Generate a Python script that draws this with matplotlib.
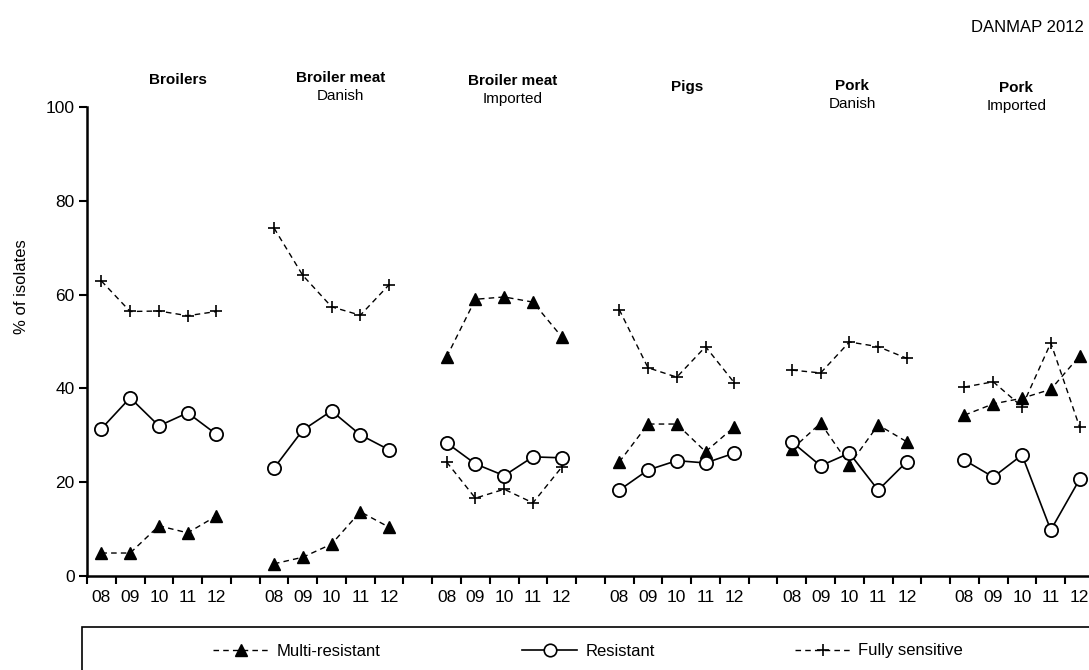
import matplotlib
matplotlib.use("Agg")
import matplotlib.pyplot as plt
import numpy as np
from matplotlib.patches import Rectangle

plt.rcParams['font.family'] = ['Liberation Sans', 'DejaVu Sans']

years = ['08', '09', '10', '11', '12']
groups = ['Broilers', 'Broiler meat', 'Broiler meat', 'Pigs', 'Pork', 'Pork']
subtitles = ['', 'Danish', 'Imported', '', 'Danish', 'Imported']

multi_resistant = [
    [4.9, 4.9, 10.7, 9.2, 12.8],
    [2.6, 4.0, 6.8, 13.7, 10.4],
    [46.7, 59.0, 59.5, 58.4, 51.0],
    [24.3, 32.4, 32.4, 26.5, 31.8],
    [27.0, 32.6, 23.7, 32.2, 28.6],
    [34.3, 36.7, 37.9, 39.8, 46.9],
]
resistant = [
    [31.4, 38.0, 32.0, 34.8, 30.2],
    [23.0, 31.1, 35.2, 30.1, 26.9],
    [28.4, 23.9, 21.4, 25.4, 25.2],
    [18.3, 22.6, 24.6, 24.1, 26.2],
    [28.6, 23.5, 26.2, 18.3, 24.4],
    [24.7, 21.1, 25.8, 9.8, 20.6],
]
fully_sensitive = [
    [62.9, 56.4, 56.5, 55.5, 56.4],
    [74.2, 64.1, 57.4, 55.6, 62.1],
    [24.3, 16.6, 18.5, 15.6, 23.2],
    [56.8, 44.4, 42.4, 48.9, 41.2],
    [43.9, 43.3, 49.9, 48.9, 46.4],
    [40.3, 41.4, 36.1, 49.7, 31.8],
]

W, H = 1089, 670
fig = plt.figure(figsize=(W / 100, H / 100), dpi=100)
slot = 28.77
ax = fig.add_axes([87 / W, 94 / H, 36 * slot / W, 469 / H])

for i in range(len(groups)):
    x = np.arange(5) + 6 * i + 0.5
    ax.plot(x, fully_sensitive[i], color='black', ls=(0, (4, 3)), lw=1,
            marker='+', ms=9, mew=1.2, clip_on=False)
    ax.plot(x, multi_resistant[i], color='black', ls=(0, (4, 3)), lw=1,
            marker='^', ms=9, mfc='black', mec='black', clip_on=False)
    ax.plot(x, resistant[i], color='black', ls='-', lw=1.2,
            marker='o', ms=9.5, mfc='white', mec='black', mew=1.3, clip_on=False)

ax.set_xlim(0, 36)
ax.set_ylim(0, 100)
ax.set_yticks([0, 20, 40, 60, 80, 100])
ax.set_xticks(np.arange(0, 37))
ax.set_xticklabels([])
centers = []
labels = []
for i in range(len(groups)):
    for j, yr in enumerate(years):
        centers.append(6 * i + j + 0.5)
        labels.append(yr)
ax.set_xticks(centers, minor=True)
ax.set_xticklabels(labels, minor=True)
ax.tick_params(axis='x', which='major', direction='out', length=6, width=1.5)
ax.tick_params(axis='x', which='minor', length=0, pad=10, labelsize=12.5)
ax.tick_params(axis='y', direction='out', length=6, width=1.5, labelsize=12.5, pad=3)

for s in ['top', 'right']:
    ax.spines[s].set_visible(False)
for s in ['left', 'bottom']:
    ax.spines[s].set_linewidth(1.8)

ax.set_ylabel('% of isolates', fontsize=12)
ax.yaxis.set_label_coords(-0.056, 0.616)

# group headings
label_x = [3.15, 8.82, 14.8, 20.85, 26.6, 32.3]
label_y = [80, 78, 81, 87, 86, 88]
for i in range(len(groups)):
    px = 87 + label_x[i] * slot
    fig.text(px / W, 1 - label_y[i] / H, groups[i], ha='center', va='center',
             fontsize=11, fontweight='bold')
    if subtitles[i]:
        fig.text(px / W, 1 - (label_y[i] + 18) / H, subtitles[i], ha='center',
                 va='center', fontsize=11)

fig.text(1084 / W, 1 - 28 / H, 'DANMAP 2012', ha='right', va='center', fontsize=12)

# legend box
fig.patches.append(Rectangle((82 / W, -0.05), 1.2, (670 - 627) / H + 0.05,
                             transform=fig.transFigure, fill=False,
                             ec='black', lw=1.2))
h1, = ax.plot([], [], color='black', ls=(0, (4, 3)), lw=1, marker='^', ms=8,
              mfc='black', label='Multi-resistant')
h2, = ax.plot([], [], color='black', ls='-', lw=1.2, marker='o', ms=9,
              mfc='white', mew=1.2, label='Resistant')
h3, = ax.plot([], [], color='black', ls=(0, (4, 3)), lw=1, marker='+', ms=9,
              mew=1.2, label='Fully sensitive')
for h, lx in [(h1, 213), (h2, 522), (h3, 795)]:
    fig.legend(handles=[h], loc='center left', bbox_to_anchor=(lx / W, 1 - 651 / H),
               frameon=False, fontsize=12, handlelength=3.3, handletextpad=0.5,
               borderaxespad=0, borderpad=0)

fig.savefig('out.png', dpi=100)
